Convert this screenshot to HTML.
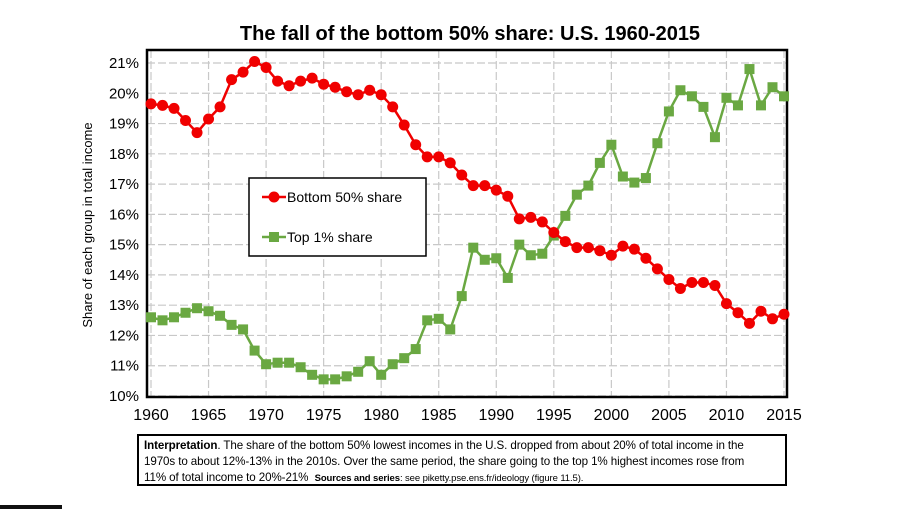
<!DOCTYPE html>
<html><head><meta charset="utf-8"><style>
body{margin:0;background:#fff;width:900px;height:509px;overflow:hidden;font-family:"Liberation Sans",sans-serif;position:relative}
#title{position:absolute;left:0;width:940px;top:23px;text-align:center;font-weight:bold;font-size:20px}
#note{position:absolute;left:137px;top:434px;width:650px;height:52px;border:2px solid #000;font-size:11.6px;line-height:16px;padding:2px 0 0 5px;box-sizing:border-box;letter-spacing:-0.1px;white-space:nowrap}
</style></head><body>
<div id="title">The fall of the bottom 50% share: U.S. 1960-2015</div>
<svg id="chart" width="900" height="509" style="position:absolute;left:0;top:0"></svg>
<div id="note"><b>Interpretation</b>. The share of the bottom 50% lowest incomes in the U.S. dropped from about 20% of total income in the<br>1970s to about 12%-13% in the 2010s. Over the same period, the share going to the top 1% highest incomes rose from<br>11% of total income to 20%-21% &nbsp;<span style="font-size:9.5px"><b>Sources and series</b>: see piketty.pse.ens.fr/ideology (figure 11.5).</span></div>
<div style="position:absolute;left:0;top:505px;width:62px;height:4px;background:#111"></div>
<script>
const years=[];for(let y=1960;y<=2015;y++)years.push(y);
const bottom50=[19.65,19.6,19.5,19.1,18.7,19.15,19.55,20.45,20.7,21.05,20.85,20.4,20.25,20.4,20.5,20.3,20.2,20.05,19.95,20.1,19.95,19.55,18.95,18.3,17.9,17.9,17.7,17.3,16.95,16.95,16.8,16.6,15.85,15.9,15.75,15.4,15.1,14.9,14.9,14.8,14.65,14.95,14.85,14.55,14.2,13.85,13.55,13.75,13.75,13.65,13.05,12.75,12.4,12.8,12.55,12.7];
const top1=[12.6,12.5,12.6,12.75,12.9,12.8,12.65,12.35,12.2,11.5,11.05,11.1,11.1,10.95,10.7,10.55,10.55,10.65,10.8,11.15,10.7,11.05,11.25,11.55,12.5,12.55,12.2,13.3,14.9,14.5,14.55,13.9,15.0,14.65,14.7,15.3,15.95,16.65,16.95,17.7,18.3,17.25,17.05,17.2,18.35,19.4,20.1,19.9,19.55,18.55,19.85,19.6,20.8,19.6,20.2,19.9];
const yTicks=[10,11,12,13,14,15,16,17,18,19,20,21];
const xTicks=[1960,1965,1970,1975,1980,1985,1990,1995,2000,2005,2010,2015];
const L=147,R=787,T=50,B=397;
const X=y=>151+(y-1960)*(784-151)/55;
const Y=v=>396-(v-10)*(396-63)/11;
const svg=document.getElementById('chart');const NS='http://www.w3.org/2000/svg';
function mk(t,a,p){const e=document.createElementNS(NS,t);for(const k in a)e.setAttribute(k,a[k]);(p||svg).appendChild(e);return e;}
yTicks.forEach(v=>{const l=mk('line',{x1:L,x2:R,y1:Y(v),y2:Y(v),stroke:'#c8c8c8','stroke-dasharray':'8,3','stroke-width':1.2});

const t=mk('text',{x:L-8,y:Y(v)+5,'text-anchor':'end','font-size':15,'font-family':'Liberation Sans'});t.textContent=v+'%';
});
xTicks.forEach(v=>{const l=mk('line',{x1:X(v),x2:X(v),y1:T,y2:B,stroke:'#c8c8c8','stroke-dasharray':'8,3','stroke-width':1.2});

const t=mk('text',{x:X(v),y:420,'text-anchor':'middle','font-size':16,'font-family':'Liberation Sans'});t.textContent=v;
});
const fr=mk('rect',{x:L,y:T,width:R-L,height:B-T,fill:'none',stroke:'#000','stroke-width':2.5});

const yt=mk('text',{x:0,y:0,transform:'translate(92,225) rotate(-90)','text-anchor':'middle','font-size':13,'font-family':'Liberation Sans'});yt.textContent='Share of each group in total income';

function series(vals,color,sq,name){const g=mk('g',{});
mk('polyline',{points:vals.map((v,i)=>X(years[i])+','+Y(v)).join(' '),fill:'none',stroke:color,'stroke-width':2.5},g);
vals.forEach((v,i)=>{let m;if(sq)m=mk('rect',{x:X(years[i])-5,y:Y(v)-5,width:10,height:10,fill:color},g);else m=mk('circle',{cx:X(years[i]),cy:Y(v),r:5.5,fill:color},g);
});}
series(top1,'#6aa842',true,'top1-series');
series(bottom50,'#f00000',false,'bottom50-series');
const lg=mk('g',{});
mk('rect',{x:249,y:178,width:177,height:78,fill:'#fff',stroke:'#000','stroke-width':1.5},lg);
mk('line',{x1:262,x2:286,y1:197,y2:197,stroke:'#f00000','stroke-width':2.5},lg);mk('circle',{cx:274,cy:197,r:5.5,fill:'#f00000'},lg);
mk('line',{x1:262,x2:286,y1:237,y2:237,stroke:'#6aa842','stroke-width':2.5},lg);mk('rect',{x:269,y:232,width:10,height:10,fill:'#6aa842'},lg);
let t1=mk('text',{x:287,y:202,'font-size':14,'font-family':'Liberation Sans'},lg);t1.textContent='Bottom 50% share';

let t2=mk('text',{x:287,y:242,'font-size':14,'font-family':'Liberation Sans'},lg);t2.textContent='Top 1% share';

</script>
</body></html>
